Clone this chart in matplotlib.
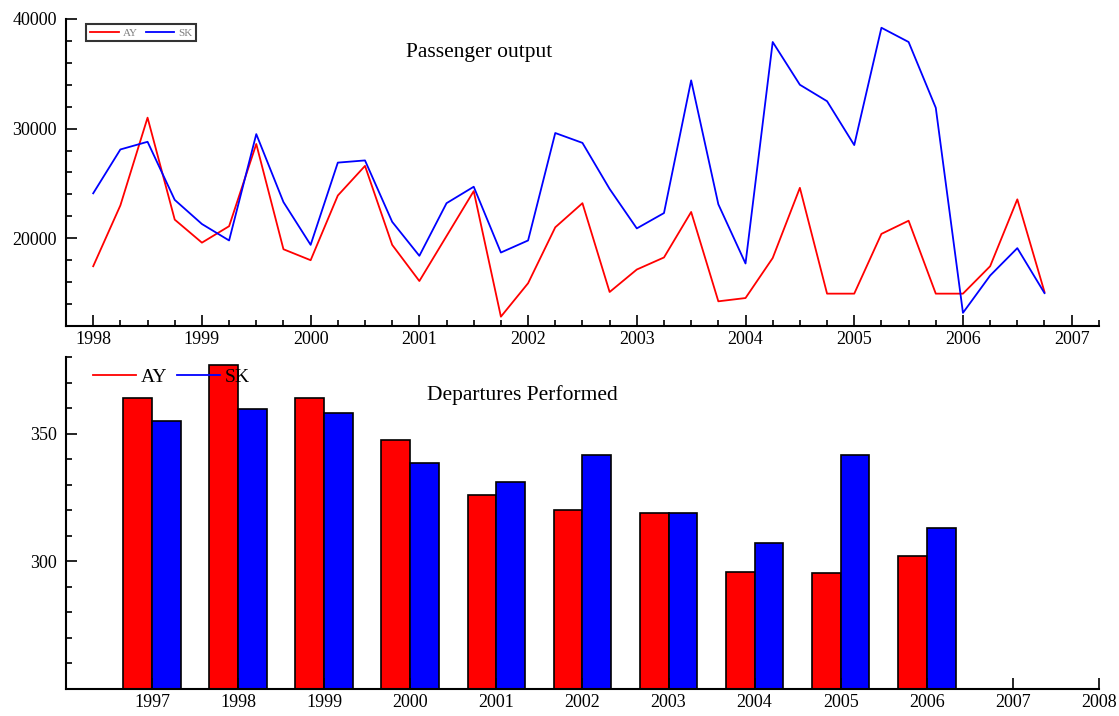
import numpy as np
import matplotlib
matplotlib.use("Agg")
import matplotlib.pyplot as plt
import matplotlib.ticker as ticker

plt.rcParams["font.family"] = ["Liberation Serif", "DejaVu Serif"]

# quarterly passenger output, 1998 Q1 .. 2006 Q4
quarters = np.arange(1998.0, 2007.0, 0.25)
ay_passengers = [
    17450, 23000, 31000, 21700, 19600, 21100, 28600, 19000,
    18000, 23900, 26600, 19400, 16100, 20200, 24300, 12850,
    15900, 21000, 23200, 15100, 17150, 18250, 22400, 14250,
    14550, 18200, 24600, 14950, 14950, 20400, 21600, 14950,
    14950, 17450, 23550, 15100,
]
sk_passengers = [
    24100, 28100, 28800, 23500, 21300, 19800, 29500, 23300,
    19400, 26900, 27100, 21500, 18400, 23200, 24700, 18700,
    19800, 29600, 28700, 24500, 20900, 22300, 34400, 23100,
    17700, 37900, 34000, 32500, 28500, 39200, 37900, 31900,
    13200, 16600, 19100, 15000,
]

# yearly departures performed
years = np.arange(1997, 2007)
ay_departures = [364, 377, 364, 347.5, 326, 320, 319, 296, 295.5, 302]
sk_departures = [355, 359.5, 358, 338.5, 331, 341.5, 319, 307, 341.5, 313]
dep_ticks = np.arange(1997, 2009)

fig = plt.figure(figsize=(11.19, 7.16), dpi=100)
ax1 = fig.add_axes([0.059, 0.5447, 0.923, 0.4288])
ax2 = fig.add_axes([0.059, 0.0377, 0.923, 0.4637])

for ax in (ax1, ax2):
    for side in ("top", "right"):
        ax.spines[side].set_visible(False)
    for side in ("left", "bottom"):
        ax.spines[side].set_linewidth(1.5)
    ax.tick_params(which="both", direction="in", width=1.2, labelsize=13)
    ax.tick_params(which="major", length=8)
    ax.tick_params(which="minor", length=4)
    ax.tick_params(axis="y", which="both", pad=6.5)

# --- passenger output ---
ax1.plot(quarters, ay_passengers, color="#ff0000", linewidth=1.3, label="AY")
ax1.plot(quarters, sk_passengers, color="#0000ff", linewidth=1.3, label="SK")
ax1.set_xlim(1997.75, 2007.25)
ax1.set_ylim(12000, 40000)
ax1.set_xticks(np.arange(1998, 2008))
ax1.xaxis.set_minor_locator(ticker.MultipleLocator(0.25))
ax1.set_yticks([20000, 30000, 40000])
ax1.yaxis.set_minor_locator(ticker.MultipleLocator(2000))
ax1.xaxis.set_major_formatter(ticker.FuncFormatter(lambda x, p: "%d" % round(x)))
ax1.text(0.4, 0.89, "Passenger output", transform=ax1.transAxes,
         fontsize=15.5, ha="center", va="center")
leg1 = ax1.legend(ncol=2, loc="upper left", bbox_to_anchor=(0.0194, 0.984),
                  fontsize=8, frameon=True, fancybox=False, labelcolor="gray",
                  handlelength=2.6, columnspacing=0.7, borderpad=0.35,
                  handletextpad=0.35, borderaxespad=0)
leg1.get_frame().set_edgecolor("black")
leg1.get_frame().set_linewidth(1.5)

# --- departures performed ---
w = 0.335
ax2.bar(years - w / 2, ay_departures, width=w, color="#ff0000",
        edgecolor="black", linewidth=1.2)
ax2.bar(years + w / 2, sk_departures, width=w, color="#0000ff",
        edgecolor="black", linewidth=1.2)
ax2.plot([], [], color="#ff0000", linewidth=1.3, label="AY")
ax2.plot([], [], color="#0000ff", linewidth=1.3, label="SK")
ax2.set_xlim(1996, 2008)
ax2.set_ylim(250, 380)
ax2.set_xticks(dep_ticks)
ax2.set_xticklabels([str(y) for y in dep_ticks])
ax2.set_yticks([300, 350])
ax2.yaxis.set_minor_locator(ticker.MultipleLocator(10))
ax2.text(0.442, 0.885, "Departures Performed", transform=ax2.transAxes,
         fontsize=15.5, ha="center", va="center")
ax2.legend(ncol=2, loc="upper left", bbox_to_anchor=(0.026, 0.967),
           fontsize=14, frameon=False,
           handlelength=2.2, borderpad=0, columnspacing=0.5,
           handletextpad=0.25, borderaxespad=0)

plt.savefig("out.png", dpi=100)
plt.close()
